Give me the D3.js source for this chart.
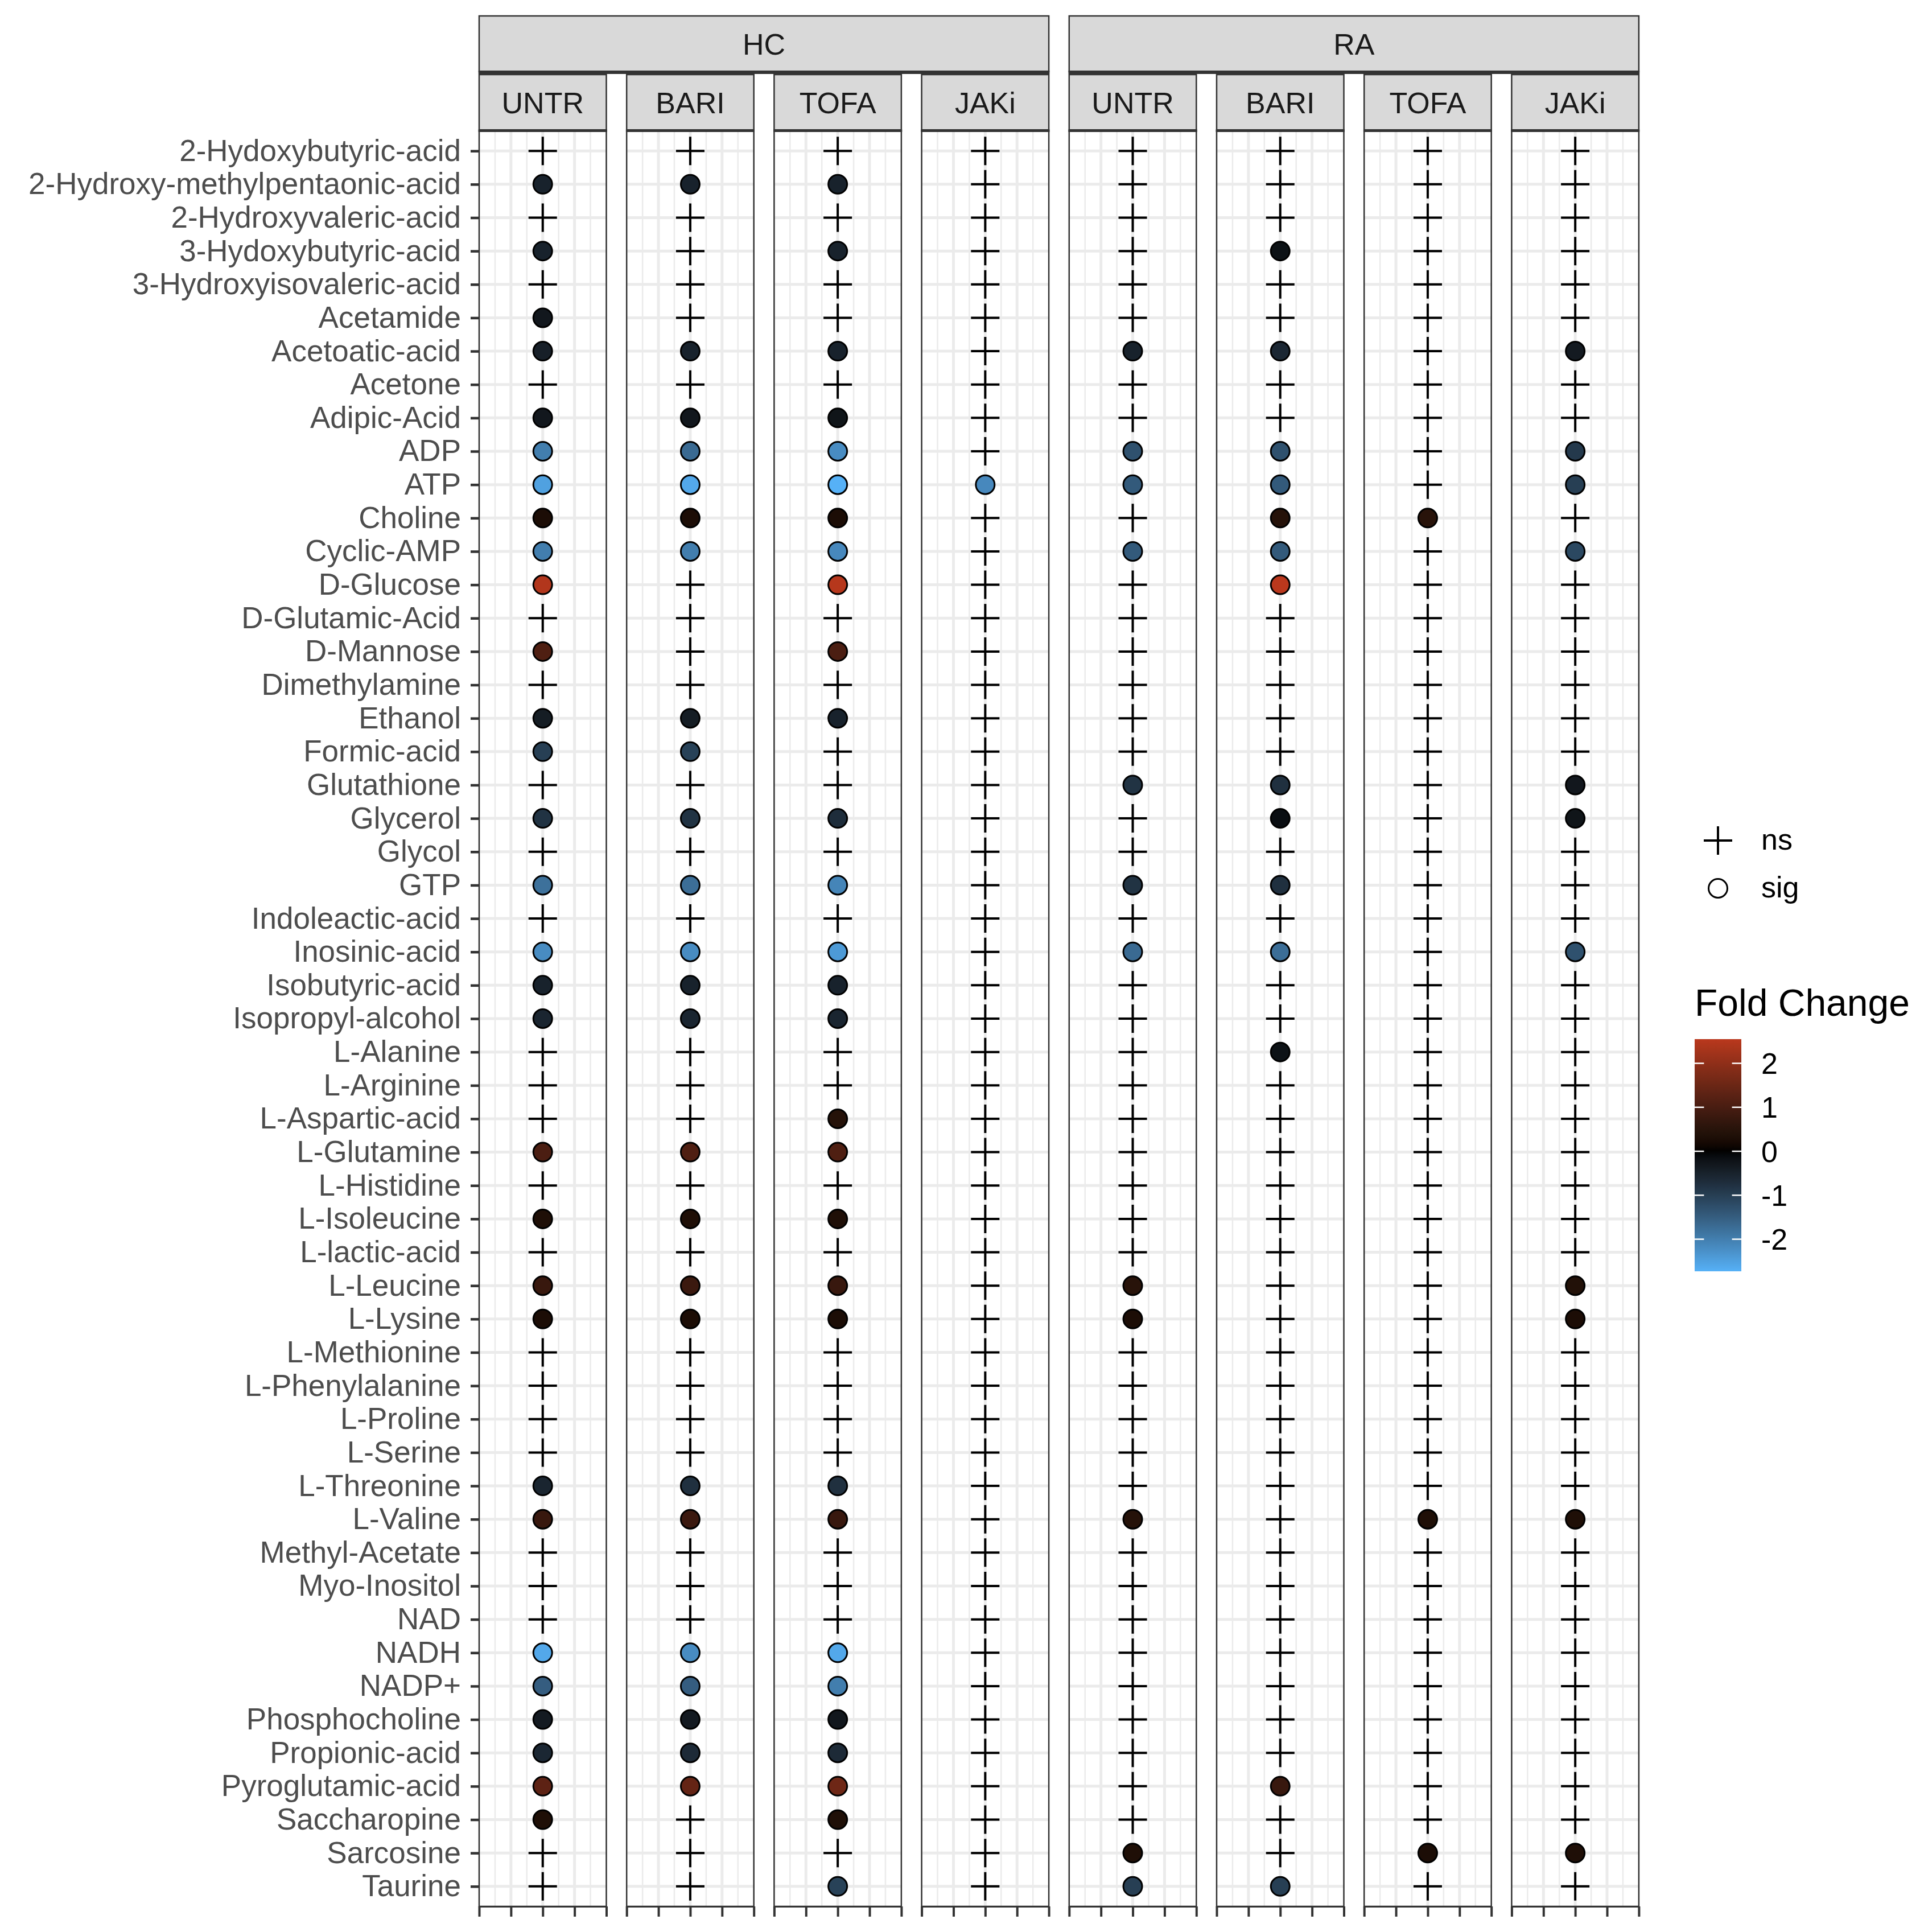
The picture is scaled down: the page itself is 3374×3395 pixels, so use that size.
<!DOCTYPE html>
<html>
<head>
<meta charset="utf-8">
<script src="https://cdn.jsdelivr.net/npm/d3@7"></script>
<style>
  body { margin: 0; background: #fff; }
  text { font-family: "Liberation Sans", Arial, Helvetica, sans-serif; }
</style>
</head>
<body>
<div id="chart"></div>
<script>
// metabolites, top to bottom
var metabolites = ["2-Hydoxybutyric-acid", "2-Hydroxy-methylpentaonic-acid", "2-Hydroxyvaleric-acid",
  "3-Hydoxybutyric-acid", "3-Hydroxyisovaleric-acid", "Acetamide", "Acetoatic-acid", "Acetone",
  "Adipic-Acid", "ADP", "ATP", "Choline", "Cyclic-AMP", "D-Glucose", "D-Glutamic-Acid", "D-Mannose",
  "Dimethylamine", "Ethanol", "Formic-acid", "Glutathione", "Glycerol", "Glycol", "GTP",
  "Indoleactic-acid", "Inosinic-acid", "Isobutyric-acid", "Isopropyl-alcohol", "L-Alanine",
  "L-Arginine", "L-Aspartic-acid", "L-Glutamine", "L-Histidine", "L-Isoleucine", "L-lactic-acid",
  "L-Leucine", "L-Lysine", "L-Methionine", "L-Phenylalanine", "L-Proline", "L-Serine",
  "L-Threonine", "L-Valine", "Methyl-Acetate", "Myo-Inositol", "NAD", "NADH", "NADP+",
  "Phosphocholine", "Propionic-acid", "Pyroglutamic-acid", "Saccharopine", "Sarcosine", "Taurine"];

var groups = ["HC", "RA"];
var treatments = ["UNTR", "BARI", "TOFA", "JAKi"];

// fold change per metabolite, null = not significant (ns)
var hcUntr = [null, -0.5, null, -0.5, null, -0.3, -0.45, null, -0.3, -2.0,
  -2.5, 0.3, -2.0, 2.45, null, 1.1, null, -0.4, -1.0, null,
  -0.8, null, -1.8, null, -2.2, -0.5, -0.55, null, null, null,
  1.05, null, 0.35, null, 0.75, 0.3, null, null, null, null,
  -0.55, 0.75, null, null, null, -2.6, -1.5, -0.35, -0.6, 1.3,
  0.35, null, null];
var hcBari = [null, -0.5, null, null, null, null, -0.5, null, -0.3, -1.7,
  -2.6, 0.3, -2.0, null, null, null, null, -0.4, -1.05, null,
  -0.8, null, -1.75, null, -2.2, -0.5, -0.55, null, null, null,
  1.1, null, 0.35, null, 0.8, 0.3, null, null, null, null,
  -0.75, 0.8, null, null, null, -2.2, -1.5, -0.35, -0.65, 1.4,
  null, null, null];
var hcTofa = [null, -0.5, null, -0.5, null, null, -0.5, null, -0.25, -2.2,
  -2.73, 0.3, -2.15, 2.5, null, 1.05, null, -0.5, null, null,
  -0.7, null, -2.1, null, -2.4, -0.5, -0.55, null, null, 0.45,
  1.1, null, 0.35, null, 0.75, 0.3, null, null, null, null,
  -0.75, 0.75, null, null, null, -2.6, -2.0, -0.3, -0.65, 1.55,
  0.35, null, -1.05];
var hcJaki = [null, null, null, null, null, null, null, null, null, null,
  -2.15, null, null, null, null, null, null, null, null, null,
  null, null, null, null, null, null, null, null, null, null,
  null, null, null, null, null, null, null, null, null, null,
  null, null, null, null, null, null, null, null, null, null,
  null, null, null];
var raUntr = [null, null, null, null, null, null, -0.5, null, null, -1.3,
  -1.45, null, -1.45, null, null, null, null, null, null, -0.8,
  null, null, -0.8, null, -1.7, null, null, null, null, null,
  null, null, null, null, 0.5, 0.3, null, null, null, null,
  null, 0.45, null, null, null, null, null, null, null, null,
  null, 0.35, -1.0];
var raBari = [null, null, null, -0.2, null, null, -0.6, null, null, -1.3,
  -1.45, 0.45, -1.45, 2.55, null, null, null, null, null, -0.75,
  -0.15, null, -0.75, null, -1.75, null, null, -0.2, null, null,
  null, null, null, null, null, null, null, null, null, null,
  null, null, null, null, null, null, null, null, null, 0.75,
  null, null, -1.0];
var raTofa = [null, null, null, null, null, null, null, null, null, null,
  null, 0.5, null, null, null, null, null, null, null, null,
  null, null, null, null, null, null, null, null, null, null,
  null, null, null, null, null, null, null, null, null, null,
  null, 0.35, null, null, null, null, null, null, null, null,
  null, 0.3, null];
var raJaki = [null, null, null, null, null, null, -0.35, null, null, -0.9,
  -1.0, null, -1.15, null, null, null, null, null, null, -0.3,
  -0.25, null, null, null, -1.3, null, null, null, null, null,
  null, null, null, null, 0.4, 0.3, null, null, null, null,
  null, 0.35, null, null, null, null, null, null, null, null,
  null, 0.35, null];

var shapeLabels = ["ns", "sig"];
var foldTicks = [2, 1, 0, -1, -2];

var W = 3374, H = 3395;
var svg = d3.select("#chart").append("svg")
  .attr("width", W)
  .attr("height", H);
svg.append("rect").attr("width", W).attr("height", H).attr("fill", "#fff");

// layout
var plotLeft = 842, panelW = 223.5, gap = 35.7;
var strip1Top = 28, strip1H = 98, strip2Top = 131, panelTop = 230, panelBottom = 3350;
var dark = "#333333", gridCol = "#EBEBEB";

var columns = [];
groups.forEach(function(g, gi) {
  treatments.forEach(function(t, ti) {
    columns.push({group: g, trt: t, values: [[hcUntr, hcBari, hcTofa, hcJaki], [raUntr, raBari, raTofa, raJaki]][gi][ti]});
  });
});

var y = d3.scalePoint().domain(metabolites).range([panelTop, panelBottom]).padding(0.6);
var x = d3.scaleLinear().domain([-1, 1]).range([0, panelW]);

var allVals = [];
columns.forEach(function(c) { c.values.forEach(function(v) { if (v !== null) allVals.push(v); }); });
var vmax = d3.max(allVals, function(v) { return Math.abs(v); });
var color = d3.scaleLinear()
  .domain([-vmax, 0, vmax])
  .range(["#56B1F7", "#000000", "#C83B1E"])
  .interpolate(d3.interpolateLab);

// top strips (HC / RA)
groups.forEach(function(g, gi) {
  var gx = plotLeft + gi * 4 * (panelW + gap);
  var gw = 4 * panelW + 3 * gap;
  svg.append("rect")
    .attr("x", gx).attr("y", strip1Top).attr("width", gw).attr("height", strip1H)
    .attr("fill", "#D9D9D9").attr("stroke", dark).attr("stroke-width", 2.5);
  svg.append("rect")
    .attr("x", gx - 1.25).attr("y", strip1Top + strip1H - 2).attr("width", gw + 2.5).attr("height", 6)
    .attr("fill", dark);
  svg.append("text")
    .attr("x", gx + gw / 2).attr("y", strip1Top + strip1H / 2)
    .attr("dy", "0.36em").attr("text-anchor", "middle")
    .attr("font-size", 52).attr("fill", "#1A1A1A")
    .text(g);
});

columns.forEach(function(c, i) {
  var px = plotLeft + i * (panelW + gap);
  var panel = svg.append("g").attr("transform", "translate(" + px + ",0)");

  // second strip
  panel.append("rect")
    .attr("x", 0).attr("y", strip2Top).attr("width", panelW).attr("height", panelTop - strip2Top)
    .attr("fill", "#D9D9D9").attr("stroke", dark).attr("stroke-width", 2.5);
  panel.append("text")
    .attr("x", panelW / 2).attr("y", (strip2Top + panelTop) / 2)
    .attr("dy", "0.36em").attr("text-anchor", "middle")
    .attr("font-size", 52).attr("fill", "#1A1A1A")
    .text(c.trt);

  // panel background + grid
  panel.append("rect")
    .attr("x", 0).attr("y", panelTop).attr("width", panelW).attr("height", panelBottom - panelTop)
    .attr("fill", "#fff");
  panel.selectAll(".minor")
    .data([-0.75, -0.25, 0.25, 0.75])
    .enter().append("line")
      .attr("x1", function(d) { return x(d); }).attr("x2", function(d) { return x(d); })
      .attr("y1", panelTop).attr("y2", panelBottom)
      .attr("stroke", gridCol).attr("stroke-width", 2.5);
  panel.selectAll(".majorx")
    .data([-0.5, 0, 0.5])
    .enter().append("line")
      .attr("x1", function(d) { return x(d); }).attr("x2", function(d) { return x(d); })
      .attr("y1", panelTop).attr("y2", panelBottom)
      .attr("stroke", gridCol).attr("stroke-width", 5);
  panel.selectAll(".majory")
    .data(metabolites)
    .enter().append("line")
      .attr("x1", 0).attr("x2", panelW)
      .attr("y1", function(d) { return y(d); }).attr("y2", function(d) { return y(d); })
      .attr("stroke", gridCol).attr("stroke-width", 5);

  // points
  var pts = metabolites.map(function(m, k) { return {name: m, v: c.values[k]}; });
  panel.selectAll(".ns")
    .data(pts.filter(function(d) { return d.v === null; }))
    .enter().append("path")
      .attr("d", function(d) {
        var cx = x(0), cy = y(d.name);
        return "M" + (cx - 25) + "," + cy + "H" + (cx + 25) + "M" + cx + "," + (cy - 25) + "V" + (cy + 25);
      })
      .attr("stroke", "#000").attr("stroke-width", 4).attr("fill", "none");
  panel.selectAll(".sig")
    .data(pts.filter(function(d) { return d.v !== null; }))
    .enter().append("circle")
      .attr("cx", x(0)).attr("cy", function(d) { return y(d.name); })
      .attr("r", 16.5)
      .attr("fill", function(d) { return color(d.v); })
      .attr("stroke", "#000").attr("stroke-width", 3);

  // panel border
  panel.append("rect")
    .attr("x", 0).attr("y", panelTop).attr("width", panelW).attr("height", panelBottom - panelTop)
    .attr("fill", "none").attr("stroke", dark).attr("stroke-width", 2.5);
  panel.append("rect")
    .attr("x", -1.25).attr("y", panelTop - 3).attr("width", panelW + 2.5).attr("height", 5)
    .attr("fill", dark);

  // bottom axis, no labels
  var xa = panel.append("g")
    .attr("transform", "translate(0," + panelBottom + ")")
    .call(d3.axisBottom(x).tickValues([-1, -0.5, 0, 0.5, 1]).tickFormat("").tickSize(18).tickSizeOuter(0));
  xa.select(".domain").attr("stroke", dark).attr("stroke-width", 3);
  xa.selectAll(".tick line").attr("stroke", dark).attr("stroke-width", 4);

  // y axis on first panel
  if (i === 0) {
    var ya = panel.append("g")
      .call(d3.axisLeft(y).tickSize(15).tickPadding(17));
    ya.select(".domain").remove();
    ya.selectAll(".tick line").attr("stroke", dark).attr("stroke-width", 4.5);
    ya.selectAll(".tick text")
      .attr("font-size", 53).attr("fill", "#4D4D4D")
      .attr("font-family", "Liberation Sans, Arial, sans-serif");
  }
});

// shape legend
var legX = 3019, labX = 3095;
var shapeY = d3.scalePoint().domain(shapeLabels).range([1477, 1561]);
svg.append("path")
  .attr("d", "M" + (legX - 25) + "," + shapeY("ns") + "H" + (legX + 25) + "M" + legX + "," + (shapeY("ns") - 25) + "V" + (shapeY("ns") + 25))
  .attr("stroke", "#000").attr("stroke-width", 4);
svg.append("circle")
  .attr("cx", legX).attr("cy", shapeY("sig")).attr("r", 16.5)
  .attr("fill", "none").attr("stroke", "#000").attr("stroke-width", 3);
svg.selectAll(".shapeLab")
  .data(shapeLabels)
  .enter().append("text")
    .attr("x", labX).attr("y", function(d) { return shapeY(d); })
    .attr("dy", "0.3em")
    .attr("font-size", 52).attr("fill", "#000")
    .text(function(d) { return d; });

// colour bar legend
var vMin = d3.min(allVals), vMaxData = d3.max(allVals);
var cbX = 2978, cbW = 82;
var cb = d3.scaleLinear().domain([vMin, vMaxData]).range([2234, 1826]);

svg.append("text")
  .attr("x", cbX).attr("y", 1785)
  .attr("font-size", 66).attr("fill", "#000")
  .text("Fold Change");

var grad = svg.append("defs").append("linearGradient")
  .attr("id", "fcGrad").attr("x1", 0).attr("y1", 1).attr("x2", 0).attr("y2", 0);
d3.range(0, 1.0001, 0.02).forEach(function(t) {
  grad.append("stop")
    .attr("offset", t)
    .attr("stop-color", color(vMin + t * (vMaxData - vMin)));
});
svg.append("rect")
  .attr("x", cbX).attr("y", cb(vMaxData)).attr("width", cbW).attr("height", cb(vMin) - cb(vMaxData))
  .attr("fill", "url(#fcGrad)");

svg.selectAll(".cbTickL")
  .data(foldTicks)
  .enter().append("line")
    .attr("x1", cbX).attr("x2", cbX + cbW / 5)
    .attr("y1", function(d) { return cb(d); }).attr("y2", function(d) { return cb(d); })
    .attr("stroke", "#fff").attr("stroke-width", 2.5);
svg.selectAll(".cbTickR")
  .data(foldTicks)
  .enter().append("line")
    .attr("x1", cbX + cbW * 4 / 5).attr("x2", cbX + cbW)
    .attr("y1", function(d) { return cb(d); }).attr("y2", function(d) { return cb(d); })
    .attr("stroke", "#fff").attr("stroke-width", 2.5);
svg.selectAll(".cbLab")
  .data(foldTicks)
  .enter().append("text")
    .attr("x", labX).attr("y", function(d) { return cb(d); })
    .attr("dy", "0.36em")
    .attr("font-size", 52).attr("fill", "#000")
    .text(function(d) { return d; });
</script>
</body>
</html>
